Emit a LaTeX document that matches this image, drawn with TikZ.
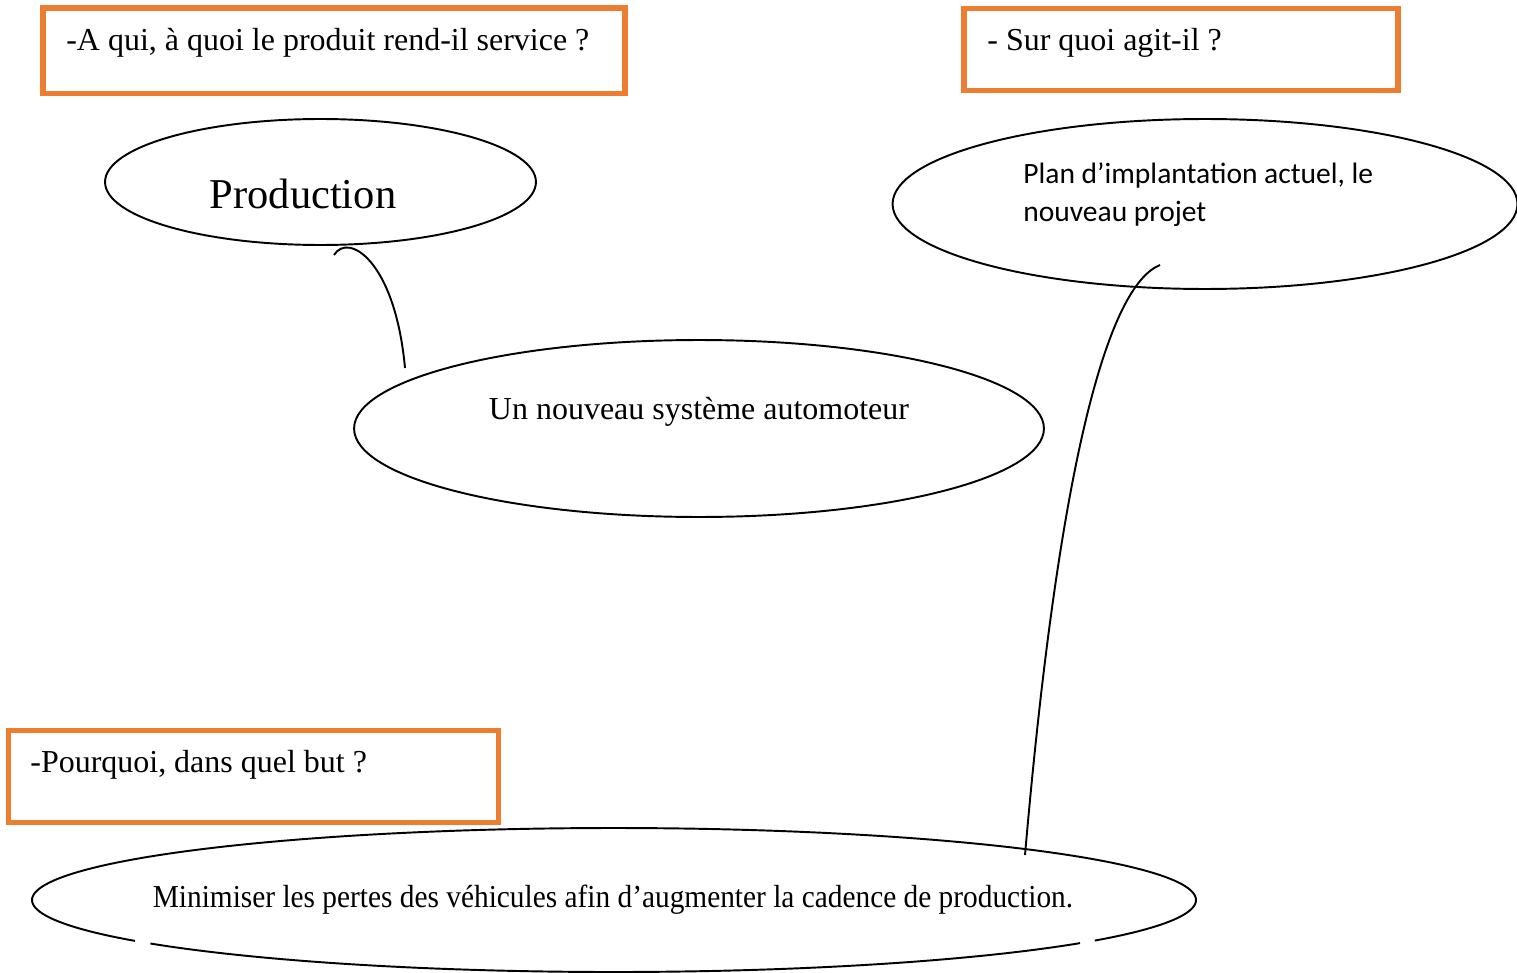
\documentclass[tikz,border=0pt]{standalone}
\usepackage{fontspec}
\setmainfont{Liberation Serif}
\newfontfamily\calibri{Carlito}
\usetikzlibrary{shapes.geometric}
\definecolor{boxorange}{RGB}{237,125,49}
\begin{document}
\begin{tikzpicture}[x=0.02cm,y=-0.02cm,
  qbox/.style={draw=boxorange,line width=3.4pt},
  bubble/.style={draw=black,line width=1.1pt,ellipse,inner sep=0pt},
  link/.style={draw=black,line width=1.1pt},
  serif/.style={font=\fontsize{18.2}{21.8}\selectfont,inner sep=0pt},
]
\useasboundingbox (0,0) rectangle (1517,973);
% question boxes
\draw[qbox] (43,8) rectangle (625,93.5);
\draw[qbox] (964,8.5) rectangle (1398,90.5);
\draw[qbox] (8.5,730.5) rectangle (498.5,822.5);
\node[serif,anchor=west] (q1) at (66,43) {-A qui, à quoi le produit rend-il service ?};
\node[serif,anchor=west] (q2) at (987,43) {- Sur quoi agit-il ?};
\node[serif,anchor=west] (q3) at (30,765) {-Pourquoi, dans quel but ?};
% bubbles
\node[bubble,minimum width=8.62cm,minimum height=2.52cm] (prod) at (320.5,182) {};
\node[inner sep=0pt,font=\fontsize{24.2}{29}\selectfont] (prodt) at (303,194) {Production};
\node[bubble,minimum width=13.8cm,minimum height=3.54cm] (sys) at (699,428.5) {};
\node[serif] (syst) at (699,412) {Un nouveau système automoteur};
\node[bubble,minimum width=12.5cm,minimum height=3.4cm] (plan) at (1205,204) {};
\node[inner sep=0pt,anchor=north west,align=left,font=\calibri\fontsize{16.8}{21.6}\selectfont] (plant) at (1023,162) {Plan d’implantation actuel, le\\nouveau projet};
\coordinate (but) at (614,900);
\draw[link] plot[domain=36.8:142.8,samples=80] ({614+582*cos(\x)},{900+72*sin(\x)});
\draw[link] plot[domain=145.4:394.3,samples=160] ({614+582*cos(\x)},{900+72*sin(\x)});
\node[serif] (butt) at (613,900) {\scalebox{0.918}[1]{Minimiser les pertes des véhicules afin d’augmenter la cadence de production.}};
% connectors
\coordinate (c1a) at (334,255);
\coordinate (c1b) at (405,368);
\draw[link] (c1a) .. controls (348,232) and (395,260) .. (c1b);
\coordinate (c2a) at (1160,265);
\coordinate (c2b) at (1025,855);
\draw[link] (c2a) .. controls (1110,285) and (1060,450) .. (c2b);
\end{tikzpicture}
\end{document}
